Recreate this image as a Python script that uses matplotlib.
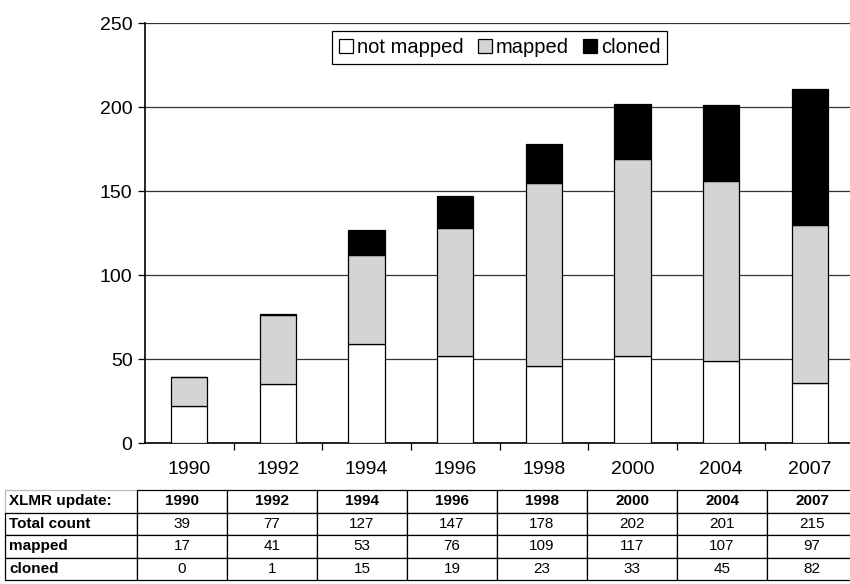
import numpy as np
import matplotlib
matplotlib.use("Agg")
import matplotlib.pyplot as plt

plt.rcParams['font.family'] = ['Liberation Sans', 'DejaVu Sans']

# Datos
years = ['1990', '1992', '1994', '1996', '1998', '2000', '2004', '2007']
not_mapped = [22, 35, 59, 52, 46, 52, 49, 36]
mapped = [17, 41, 53, 76, 109, 117, 107, 94]
cloned = [0, 1, 15, 19, 23, 33, 45, 81]

# Tabla bajo el gráfico
row_names = ['Total count', 'mapped', 'cloned']
tab_total = [39, 77, 127, 147, 178, 202, 201, 215]
tab_mapped = [17, 41, 53, 76, 109, 117, 107, 97]
tab_cloned = [0, 1, 15, 19, 23, 33, 45, 82]

W, H = 850, 584
fig = plt.figure(figsize=(W / 100, H / 100), dpi=100)
ax = fig.add_axes([145 / W, (H - 443) / H, (854 - 145) / W, (443 - 23) / H])

x = np.arange(len(years))
nm = np.array(not_mapped)
mp = np.array(mapped)
cl = np.array(cloned)
bw = 0.41
ax.bar(x, nm, bw, color='white', edgecolor='black', linewidth=0.9, label='not mapped', zorder=3)
ax.bar(x, mp, bw, bottom=nm, color='#d4d4d4', edgecolor='black', linewidth=0.9, label='mapped', zorder=3)
ax.bar(x, cl, bw, bottom=nm + mp, color='black', edgecolor='black', linewidth=0.9, label='cloned', zorder=3)

ax.set_ylim(0, 250)
ax.set_xlim(-0.5, len(years) - 0.5)
ax.set_yticks([0, 50, 100, 150, 200, 250])
ax.yaxis.grid(True, color='#333333', linewidth=0.9, zorder=0)
ax.set_xticks(x)
ax.set_xticklabels(years)
ax.set_xticks(np.arange(len(years)) + 0.5, minor=True)
ax.tick_params(axis='x', which='major', length=0, pad=13, labelsize=14)
ax.tick_params(axis='x', which='minor', length=5, width=0.9, direction='out')
ax.tick_params(axis='y', length=5, width=0.9, direction='out', labelsize=14, pad=4)
for s in ['top', 'right']:
    ax.spines[s].set_visible(False)
ax.spines['left'].set_linewidth(1.2)
ax.spines['bottom'].set_linewidth(1.2)

leg = ax.legend(loc='upper center', ncol=3, bbox_to_anchor=(0.5, 1.005), fontsize=14.5,
                handlelength=0.7, handleheight=0.7, handletextpad=0.2, columnspacing=0.7,
                fancybox=False, edgecolor='black', framealpha=1, borderpad=0.35)
leg.get_frame().set_linewidth(0.9)

# Tabla
tax = fig.add_axes([5 / W, (H - 580) / H, 852 / W, 90 / H])
tax.axis('off')
cells = [['XLMR update:'] + years,
         [row_names[0]] + [str(v) for v in tab_total],
         [row_names[1]] + [str(v) for v in tab_mapped],
         [row_names[2]] + [str(v) for v in tab_cloned]]
col_w = [132] + [90] * len(years)
tbl = tax.table(cellText=cells, colWidths=[c / sum(col_w) for c in col_w],
                bbox=[0, 0, 1, 1], cellLoc='center')
tbl.auto_set_font_size(False)
for (r, c), cell in tbl.get_celld().items():
    cell.set_linewidth(0.9)
    cell.set_edgecolor('black')
    t = cell.get_text()
    t.set_fontsize(11)
    if r == 0:
        t.set_fontweight('bold')
    if c == 0:
        t.set_fontweight('bold')
        t.set_ha('left')
        cell.PAD = 0.03
    if r == 0 and c == 0:
        cell.set_edgecolor('#bbbbbb')

fig.savefig('out.png', dpi=100)
